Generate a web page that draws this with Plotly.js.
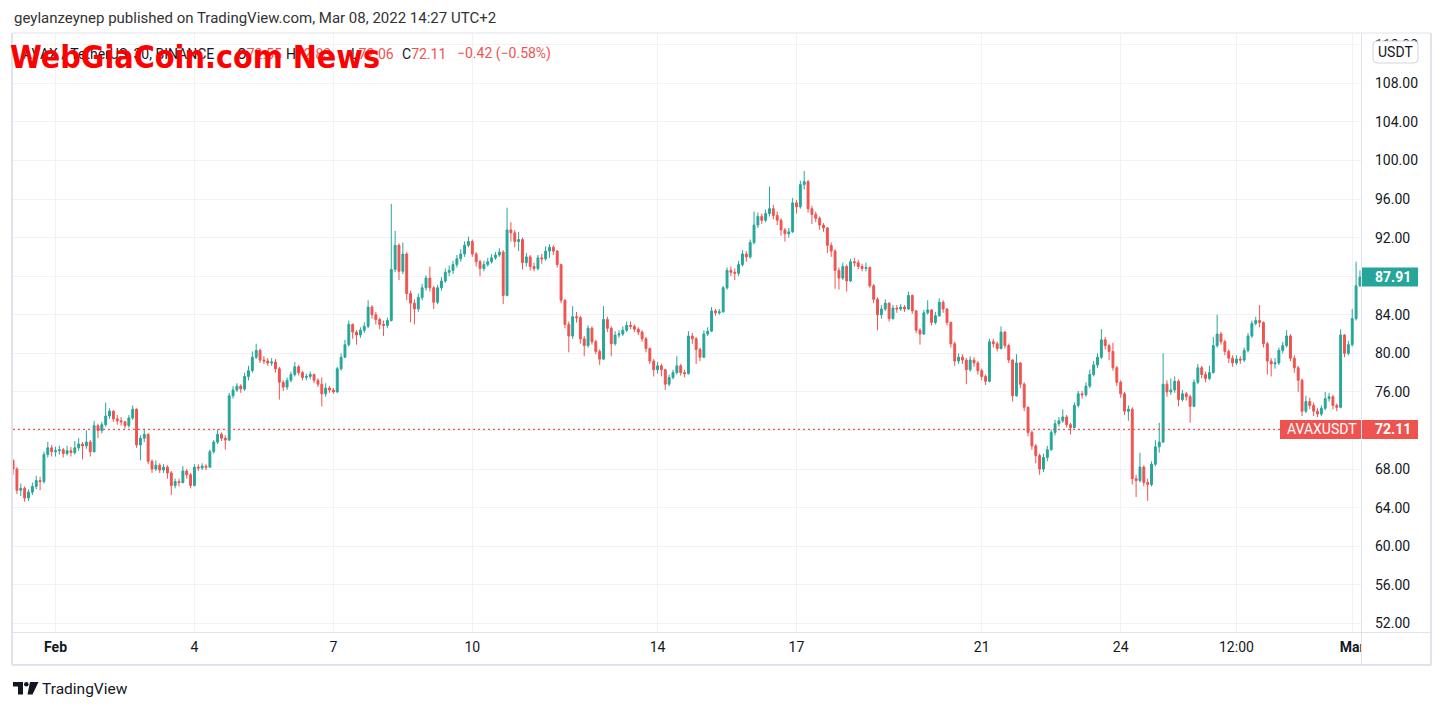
<!DOCTYPE html>
<html>
<head>
<meta charset="utf-8">
<script src="https://cdn.plot.ly/plotly-3.0.1.min.js"></script>
<style>html,body{margin:0;padding:0;background:#fff;}#chart{width:1444px;height:710px;}</style>
</head>
<body>
<div id="chart"></div>
<script>
// ---------------- DATA ----------------
const START_TIME = '2022-01-31T02:00:00Z';   // first candle
const STEP_HOURS = 2;                          // candle interval used here

const openPrices = [
68.9,68.0,65.8,66.0,65.0,65.6,66.2,66.8,66.7,69.5,
70.2,69.8,69.9,70.0,69.6,69.9,69.7,70.2,70.6,70.4,
70.8,69.8,72.5,72.0,72.6,73.5,74.0,73.2,73.0,72.9,
72.5,73.3,74.2,70.5,71.2,71.6,68.8,68.0,68.4,67.9,
68.2,67.6,66.3,66.7,66.6,67.8,67.4,66.3,68.2,68.1,
68.3,68.2,69.8,70.8,71.6,71.2,71.0,75.6,76.2,76.6,
76.3,77.6,78.2,79.6,80.3,79.3,79.2,79.0,79.1,78.4,
77.0,76.5,77.2,77.8,78.6,78.0,77.5,77.6,77.8,77.2,
76.8,75.8,76.4,76.2,76.0,78.4,79.6,80.9,83.0,82.2,
81.9,82.4,82.8,84.8,84.0,83.5,83.0,82.9,83.4,88.7,
91.2,88.5,90.3,86.2,85.2,84.6,85.8,86.8,87.8,86.8,
85.3,86.8,87.5,88.4,88.6,89.2,89.8,90.3,91.2,91.6,
90.3,89.5,88.8,89.2,89.5,89.9,90.2,90.5,86.0,92.8,
92.5,91.6,91.8,89.4,90.0,89.0,88.8,89.9,89.8,90.6,
91.0,90.6,89.2,85.5,83.0,81.8,83.8,83.7,81.5,80.8,
82.6,81.2,80.2,79.4,83.5,82.6,81.0,81.9,82.0,82.4,
82.9,82.8,82.5,82.2,81.5,80.5,79.2,78.3,78.7,78.3,
76.8,77.5,78.0,78.7,78.0,77.9,81.8,81.5,80.4,79.6,
82.0,82.3,84.4,84.2,84.3,86.8,88.6,88.4,88.3,89.2,
90.3,90.0,91.5,93.3,94.2,93.8,94.5,95.0,94.3,93.8,
92.8,92.4,92.6,95.6,95.2,97.5,97.8,95.0,94.4,94.0,
93.3,93.0,91.2,90.6,88.6,87.8,89.0,87.5,89.5,89.4,
89.0,88.8,88.9,87.0,85.6,84.0,84.6,85.2,83.6,84.7,
84.6,84.8,84.6,86.0,84.4,82.4,82.0,84.2,84.5,83.2,
83.9,85.3,84.6,83.2,81.0,79.2,79.6,79.3,78.3,79.3,
79.0,78.2,77.6,77.1,81.2,81.0,80.5,82.2,80.8,79.3,
75.6,79.0,76.8,74.4,71.8,70.4,69.4,68.0,69.2,70.0,
71.8,72.7,73.0,73.4,72.6,72.3,74.6,75.8,75.7,76.6,
77.8,78.8,79.6,81.4,80.8,80.2,78.5,77.0,75.8,74.0,
74.2,67.0,66.8,68.2,66.6,66.4,68.5,70.3,70.8,76.8,
76.0,76.2,77.1,75.2,75.8,75.5,74.5,77.0,78.5,77.8,
77.4,78.0,80.8,82.0,81.2,80.2,79.5,79.0,79.4,79.3,
80.3,81.8,83.1,83.4,83.2,81.0,79.2,78.9,79.0,80.3,
80.8,81.8,79.5,78.5,77.2,74.0,75.0,74.6,74.0,73.7,
74.3,75.3,75.5,74.6,74.4,81.9,80.0,80.9,83.6,87.0
];

const highPrices = [
69.0,68.2,66.5,66.2,65.9,66.6,67.3,67.2,69.8,70.8,
70.5,70.3,70.4,70.2,70.4,70.3,70.9,71.2,70.8,72.0,
71.0,73.0,72.7,72.9,74.9,74.3,74.1,73.6,73.4,73.0,
73.6,74.6,74.3,71.5,72.2,71.7,69.0,68.9,68.6,68.5,
68.4,67.8,67.0,67.0,68.3,68.0,67.6,68.5,68.5,68.6,
68.5,70.0,71.0,72.1,71.8,71.5,75.9,76.6,76.9,76.8,
78.0,78.7,80.2,81.0,80.5,79.7,79.5,79.5,79.4,78.6,
77.2,77.5,78.1,79.1,78.8,78.2,77.9,78.1,77.9,77.4,
77.5,76.9,76.6,76.4,78.6,80.0,81.4,83.4,83.1,82.4,
82.7,83.2,85.5,85.0,84.3,83.7,83.4,83.7,95.5,92.7,
91.4,91.5,90.5,86.5,85.6,86.2,87.2,88.1,89.0,87.0,
87.1,87.9,88.8,89.1,89.6,90.2,90.8,91.6,92.1,91.8,
90.5,89.7,89.6,89.9,90.3,90.5,90.9,90.7,95.1,93.6,
92.8,92.6,92.0,90.4,90.2,89.4,90.2,90.3,91.1,91.3,
91.2,90.7,89.3,85.6,83.3,84.9,84.3,83.9,81.8,82.9,
82.8,81.4,80.4,84.9,83.8,82.8,82.3,82.4,82.8,83.3,
83.3,83.0,82.7,82.4,81.7,80.6,79.4,79.1,78.9,78.4,
77.8,78.3,79.7,78.9,78.3,82.3,82.1,81.7,80.6,82.4,
82.7,84.8,84.6,84.6,87.0,88.9,89.0,88.8,89.6,90.7,
90.6,91.8,94.7,94.6,94.5,94.9,97.3,95.4,94.7,94.0,
93.0,93.0,96.1,95.9,97.9,98.9,98.0,95.3,94.7,94.2,
93.5,93.1,91.5,90.8,88.9,89.4,89.2,89.8,89.9,89.7,
89.3,89.4,89.0,87.2,85.8,85.0,85.6,85.3,85.0,85.0,
85.1,85.0,86.4,86.1,84.5,82.6,84.5,85.5,84.6,84.3,
85.7,85.5,84.7,83.3,81.2,80.0,79.9,79.5,79.7,79.6,
79.2,78.4,77.8,81.5,81.5,81.2,82.8,82.3,81.0,79.4,
79.9,79.1,77.0,74.5,72.0,70.6,69.6,69.6,70.4,72.1,
73.1,73.4,74.2,73.6,72.8,74.9,76.1,76.1,77.0,78.3,
79.2,80.0,82.5,81.7,81.0,81.1,78.7,77.2,76.0,74.6,
74.4,67.4,69.7,68.4,67.0,68.8,71.0,72.8,80.0,77.2,
77.4,77.6,77.3,76.2,76.0,75.7,77.3,78.9,78.7,78.1,
78.7,81.7,84.0,82.2,81.4,80.4,79.8,79.8,79.7,80.6,
82.1,83.4,83.8,85.0,83.3,81.2,79.5,79.5,80.6,81.2,
82.4,82.0,79.8,78.7,77.4,75.6,75.4,74.9,74.3,74.6,
76.0,75.9,75.7,74.8,82.5,82.0,81.3,84.6,89.5,88.6
];

const lowPrices = [
67.4,65.4,65.2,64.6,64.7,65.3,65.9,65.8,66.5,69.2,
69.3,69.3,69.5,69.2,69.4,69.3,69.5,69.9,69.0,70.1,
69.3,69.7,71.2,71.7,72.4,73.2,72.9,72.6,72.5,72.2,
72.3,73.1,70.2,68.9,70.8,68.5,67.6,67.8,67.6,67.6,
67.0,65.3,66.0,66.2,66.5,67.0,66.0,66.2,67.8,67.9,
67.9,68.1,69.6,70.6,70.9,70.0,70.9,75.3,76.0,75.9,
76.1,77.2,78.0,79.4,79.0,78.9,78.7,78.7,78.0,75.2,
76.1,76.2,77.0,77.6,77.7,77.2,77.2,77.3,76.9,76.5,
74.5,75.5,75.9,75.8,75.9,78.2,79.5,80.7,81.5,80.9,
81.6,82.1,82.6,83.6,83.0,82.5,81.8,82.6,83.3,88.4,
87.6,88.2,85.5,83.2,83.0,84.3,85.5,86.5,86.4,84.6,
85.1,86.5,87.3,88.0,88.2,88.9,89.5,90.0,91.0,90.0,
89.0,88.0,88.5,89.0,89.3,89.7,90.0,85.1,85.9,91.6,
91.0,90.6,88.7,89.0,88.6,88.5,88.6,89.3,89.6,89.9,
90.2,88.9,85.2,82.6,80.1,81.5,83.2,81.0,79.7,80.6,
80.9,79.9,78.8,79.3,82.2,79.7,80.8,81.6,81.8,82.2,
82.5,82.2,81.9,81.2,80.1,78.9,77.6,77.9,77.6,76.2,
76.6,77.3,77.8,77.7,77.5,77.8,81.0,78.9,79.2,79.5,
81.8,82.2,83.9,84.0,84.2,86.6,88.0,87.6,88.0,89.0,
89.5,89.8,91.3,93.0,93.4,93.6,94.2,93.9,93.3,92.2,
91.6,92.0,92.5,94.5,95.0,97.0,94.6,93.4,93.6,92.8,
92.6,90.4,90.0,86.7,86.6,87.6,86.4,87.4,89.0,88.7,
88.5,88.5,86.8,85.2,82.4,83.6,84.4,83.3,83.5,84.2,
84.4,84.3,84.5,84.1,82.1,80.9,81.9,84.0,82.9,83.0,
83.8,84.2,82.9,80.6,78.7,78.9,78.9,76.8,78.1,78.6,
77.8,77.2,76.7,77.0,80.6,80.2,80.4,80.5,79.0,75.0,
75.5,76.4,74.0,71.4,70.0,68.6,67.4,67.7,68.8,69.9,
71.5,72.4,72.8,72.3,71.6,72.2,74.4,75.3,75.5,76.4,
77.6,78.5,79.4,80.4,79.3,78.2,76.6,75.4,73.6,73.0,
66.4,65.1,66.6,66.2,64.7,66.2,68.3,69.7,70.7,75.5,
75.7,75.9,74.5,75.0,75.1,72.8,74.4,76.8,77.4,77.0,
77.2,77.9,80.6,80.9,79.8,79.0,78.6,78.8,78.9,79.1,
80.1,81.6,82.9,82.7,80.6,77.8,77.6,78.4,78.8,80.0,
80.6,79.2,78.0,76.0,73.5,73.8,74.2,73.5,73.4,73.5,
74.1,75.0,74.2,74.0,74.3,79.6,79.8,80.7,83.4,86.9
];

const closePrices = [
68.0,65.8,66.0,65.0,65.6,66.2,66.8,66.7,69.5,70.2,
69.8,69.9,70.0,69.6,69.9,69.7,70.2,70.6,70.4,70.8,
69.8,72.5,72.0,72.6,73.5,74.0,73.2,73.0,72.9,72.5,
73.3,74.2,70.5,71.2,71.6,68.8,68.0,68.4,67.9,68.2,
67.6,66.3,66.7,66.6,67.8,67.4,66.3,68.2,68.1,68.3,
68.2,69.8,70.8,71.6,71.2,71.0,75.6,76.2,76.6,76.3,
77.6,78.2,79.6,80.3,79.3,79.2,79.0,79.1,78.4,77.0,
76.5,77.2,77.8,78.6,78.0,77.5,77.6,77.8,77.2,76.8,
75.8,76.4,76.2,76.0,78.4,79.6,80.9,83.0,82.2,81.9,
82.4,82.8,84.8,84.0,83.5,83.0,82.9,83.4,88.7,91.2,
88.5,90.3,86.2,85.2,84.6,85.8,86.8,87.8,86.8,85.3,
86.8,87.5,88.4,88.6,89.2,89.8,90.3,91.2,91.6,90.3,
89.5,88.8,89.2,89.5,89.9,90.2,90.5,86.0,92.8,92.5,
91.6,91.8,89.4,90.0,89.0,88.8,89.9,89.8,90.6,91.0,
90.6,89.2,85.5,83.0,81.8,83.8,83.7,81.5,80.8,82.6,
81.2,80.2,79.4,83.5,82.6,81.0,81.9,82.0,82.4,82.9,
82.8,82.5,82.2,81.5,80.5,79.2,78.3,78.7,78.3,76.8,
77.5,78.0,78.7,78.0,77.9,81.8,81.5,80.4,79.6,82.0,
82.3,84.4,84.2,84.3,86.8,88.6,88.4,88.3,89.2,90.3,
90.0,91.5,93.3,94.2,93.8,94.5,95.0,94.3,93.8,92.8,
92.4,92.6,95.6,95.2,97.5,97.8,95.0,94.4,94.0,93.3,
93.0,91.2,90.6,88.6,87.8,89.0,87.5,89.5,89.4,89.0,
88.8,88.9,87.0,85.6,84.0,84.6,85.2,83.6,84.7,84.6,
84.8,84.6,86.0,84.4,82.4,82.0,84.2,84.5,83.2,83.9,
85.3,84.6,83.2,81.0,79.2,79.6,79.3,78.3,79.3,79.0,
78.2,77.6,77.1,81.2,81.0,80.5,82.2,80.8,79.3,75.6,
79.0,76.8,74.4,71.8,70.4,69.4,68.0,69.2,70.0,71.8,
72.7,73.0,73.4,72.6,72.3,74.6,75.8,75.7,76.6,77.8,
78.8,79.6,81.4,80.8,80.2,78.5,77.0,75.8,74.0,74.2,
67.0,66.8,68.2,66.6,66.4,68.5,70.3,70.8,76.8,76.0,
76.2,77.1,75.2,75.8,75.5,74.5,77.0,78.5,77.8,77.4,
78.0,80.8,82.0,81.2,80.2,79.5,79.0,79.4,79.3,80.3,
81.8,83.1,83.4,83.2,81.0,79.2,78.9,79.0,80.3,80.8,
81.8,79.5,78.5,77.2,74.0,75.0,74.6,74.0,73.7,74.3,
75.3,75.5,74.6,74.4,81.9,80.0,80.9,83.6,87.0,87.91
];

const lastPrice = 72.11;                 // live price line (AVAXUSDT)
const symbolName = 'AVAXUSDT';
const currencyName = 'USDT';
const priceTicks = [52,56,60,64,68,72,76,80,84,88,92,96,100,104,108,112];
const timeTickVals = ['2022-02-01','2022-02-04','2022-02-07','2022-02-10','2022-02-14',
                      '2022-02-17','2022-02-21','2022-02-24','2022-02-26 12:00','2022-03-01'];
const timeTickText = ['<b>Feb</b>','4','7','10','14','17','21','24','12:00','<b>Mar</b>'];
const headerText = 'geylanzeynep published on TradingView.com, Mar 08, 2022 14:27 UTC+2';
const legendTitle = 'AVAX / TetherUS, 30, BINANCE';
const legendKeys = ['O','H','L','C'];
const legendVals = ['72.55','72.83','72.06','72.11'];
const legendChange = '\u22120.42 (\u22120.58%)';
const watermarkText = 'WebGiaCoin.com News';
const brandText = 'TradingView';

// ---------------- LAYOUT HELPERS ----------------
const W = 1444, H = 710;
const PL = 13, PR = 1361, PT = 33, PB = 632;
const fx = x => (x - PL) / (PR - PL);
const fy = y => (PB - y) / (PB - PT);
const UP = '#26a69a', DOWN = '#ef5350', TXT = '#131722', BORDER = '#e0e3eb', GRID = '#f0f2f5';

const times = closePrices.map((_, i) =>
  new Date(Date.parse(START_TIME) + i * STEP_HOURS * 3600000).toISOString().slice(0, 16).replace('T', ' '));

function polyPath(pts) {
  return 'M' + pts.map(p => fx(p[0]).toFixed(6) + ',' + fy(p[1]).toFixed(6)).join(' L') + ' Z';
}
function roundRectPath(x0, y0, x1, y1, r) {
  const P = (x, y) => fx(x).toFixed(6) + ',' + fy(y).toFixed(6);
  return 'M' + P(x0 + r, y0) + ' L' + P(x1 - r, y0) + ' Q' + P(x1, y0) + ' ' + P(x1, y0 + r) +
         ' L' + P(x1, y1 - r) + ' Q' + P(x1, y1) + ' ' + P(x1 - r, y1) +
         ' L' + P(x0 + r, y1) + ' Q' + P(x0, y1) + ' ' + P(x0, y1 - r) +
         ' L' + P(x0, y0 + r) + ' Q' + P(x0, y0) + ' ' + P(x0 + r, y0) + ' Z';
}
const lineShape = (x0, y0, x1, y1, color, w) => ({
  type: 'line', xref: 'paper', yref: 'paper', layer: 'above',
  x0: fx(x0), y0: fy(y0), x1: fx(x1), y1: fy(y1), line: {color: color, width: w}
});

const lastClose = closePrices[closePrices.length - 1];

const trace = {
  type: 'candlestick', x: times,
  open: openPrices, high: highPrices, low: lowPrices, close: closePrices,
  increasing: {line: {color: UP, width: 1}, fillcolor: UP},
  decreasing: {line: {color: DOWN, width: 1}, fillcolor: DOWN},
  whiskerwidth: 0, hoverinfo: 'skip', showlegend: false
};

const shapes = [
  // live price dotted line
  {type: 'line', xref: 'paper', yref: 'y', layer: 'above', x0: 0, x1: 1, y0: lastPrice, y1: lastPrice,
   line: {color: DOWN, width: 1.2, dash: '2px,3px'}},
  // cover overflowing time label under price scale
  {type: 'rect', xref: 'paper', yref: 'paper', layer: 'above', x0: fx(1361.5), x1: fx(1431), y0: fy(633), y1: fy(664.5),
   fillcolor: '#ffffff', line: {width: 0}},
  // last close label (green)
  {type: 'rect', xref: 'paper', yref: 'y', layer: 'above', x0: fx(1362), x1: fx(1418),
   ysizemode: 'pixel', yanchor: lastClose, y0: -9.5, y1: 9.5, fillcolor: UP, line: {width: 0}},
  // live price label (red)
  {type: 'rect', xref: 'paper', yref: 'y', layer: 'above', x0: fx(1280), x1: fx(1418),
   ysizemode: 'pixel', yanchor: lastPrice, y0: -9.5, y1: 9.5, fillcolor: DOWN, line: {width: 0}},
  // currency box
  {type: 'path', xref: 'paper', yref: 'paper', layer: 'above', path: roundRectPath(1373, 41, 1418, 63, 4),
   fillcolor: '#ffffff', line: {color: '#d1d4dc', width: 1}},
  // frame lines
  lineShape(12, 33, 1431, 33, BORDER, 1),
  lineShape(12, 33, 12, 665, BORDER, 2),
  lineShape(1431, 33, 1431, 665, BORDER, 2),
  lineShape(12, 665, 1431, 665, BORDER, 2),
  lineShape(1361.5, 33, 1361.5, 665, BORDER, 1),
  lineShape(12, 632.5, 1431, 632.5, BORDER, 1),
  // TradingView logo
  {type: 'path', xref: 'paper', yref: 'paper', layer: 'above',
   path: polyPath([[13, 682], [23, 682], [23, 694.5], [18, 694.5], [18, 686.5], [13, 686.5]]),
   fillcolor: TXT, line: {width: 0}},
  {type: 'circle', xref: 'paper', yref: 'paper', layer: 'above',
   x0: fx(24), x1: fx(28.6), y0: fy(686.6), y1: fy(682), fillcolor: TXT, line: {width: 0}},
  {type: 'path', xref: 'paper', yref: 'paper', layer: 'above',
   path: polyPath([[30, 682], [38.5, 682], [32.5, 694.5], [27.5, 694.5]]),
   fillcolor: TXT, line: {width: 0}}
];

const F = 'Roboto, "Noto Sans", sans-serif';
const ann = (text, x, y, opts) => Object.assign({
  text: text, xref: 'paper', yref: 'paper', x: fx(x), y: fy(y), xanchor: 'left', yanchor: 'middle',
  showarrow: false, borderpad: 0, font: {family: F, size: 14, color: TXT}
}, opts || {});

const legendX = [236, 285, 350, 401];
const annotations = [
  ann(headerText, 13, 18, {font: {family: F, size: 15, color: '#333333'}}),
  ann(legendTitle, 22, 54, {font: {family: F, size: 14, color: TXT}}),
  ...legendKeys.map((k, i) => ann('<span style="color:' + TXT + '">' + k + '</span><span style="color:' + DOWN + '">' + legendVals[i] + '</span>',
        legendX[i], 54, {font: {family: F, size: 14, color: DOWN}})),
  ann(legendChange, 456, 54, {font: {family: F, size: 14, color: DOWN}}),
  ann(watermarkText, 9, 57, {font: {family: '"DejaVu Sans Condensed", "DejaVu Sans", sans-serif', size: 32, color: '#ff0000', weight: 'bold'}}),
  // price labels
  {text: lastClose.toFixed(2), xref: 'paper', yref: 'y', x: fx(1374), y: lastClose, xanchor: 'left', yanchor: 'middle',
   showarrow: false, borderpad: 0, font: {family: F, size: 14, color: '#ffffff', weight: 'bold'}},
  {text: symbolName, xref: 'paper', yref: 'y', x: fx(1286), y: lastPrice, xanchor: 'left', yanchor: 'middle',
   showarrow: false, borderpad: 0, font: {family: F, size: 14, color: '#ffffff'}},
  {text: lastPrice.toFixed(2), xref: 'paper', yref: 'y', x: fx(1374), y: lastPrice, xanchor: 'left', yanchor: 'middle',
   showarrow: false, borderpad: 0, font: {family: F, size: 14, color: '#ffffff', weight: 'bold'}},
  ann(currencyName, 1395.5, 52.5, {xanchor: 'center', font: {family: F, size: 14, color: TXT}}),
  ann(brandText, 41, 688.5, {font: {family: F, size: 15.5, color: TXT}})
];

const layout = {
  width: W, height: H,
  margin: {l: PL, r: W - PR, t: PT, b: H - PB, pad: 0},
  paper_bgcolor: '#ffffff', plot_bgcolor: '#ffffff',
  showlegend: false, dragmode: false,
  xaxis: {
    type: 'date', range: ['2022-01-31 01:58', '2022-03-01 04:33'],
    tickmode: 'array', tickvals: timeTickVals, ticktext: timeTickText,
    showgrid: true, gridcolor: GRID, gridwidth: 1, zeroline: false, showline: false,
    ticks: '', ticklabelstandoff: 5,
    tickfont: {family: F, size: 14, color: TXT},
    rangeslider: {visible: false}, fixedrange: true
  },
  yaxis: {
    side: 'right', range: [51.10, 113.22],
    tickmode: 'array', tickvals: priceTicks, tickformat: '.2f',
    showgrid: true, gridcolor: GRID, gridwidth: 1, zeroline: false, showline: false,
    ticks: '', ticklabelstandoff: 13,
    tickfont: {family: F, size: 14, color: TXT}, fixedrange: true
  },
  shapes: shapes,
  annotations: annotations
};

Plotly.newPlot('chart', [trace], layout, {displayModeBar: false, staticPlot: true});
</script>
</body>
</html>
